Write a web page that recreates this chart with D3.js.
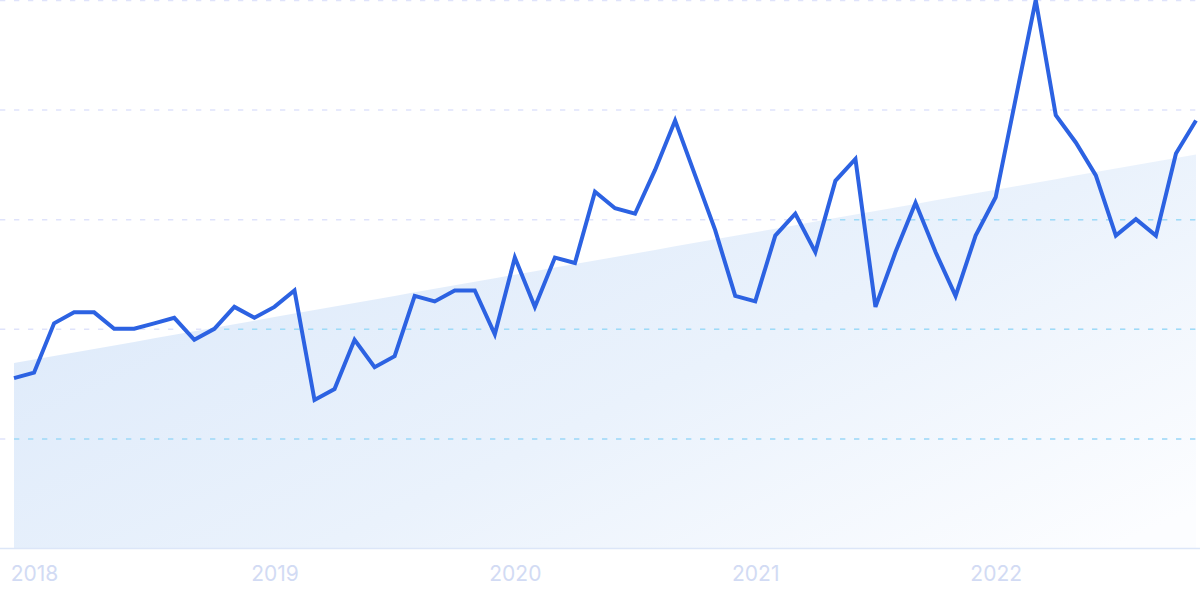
<!DOCTYPE html>
<html>
<head>
<meta charset="utf-8">
<script src="https://cdn.jsdelivr.net/npm/d3@7"></script>
<style>
  html, body { margin: 0; padding: 0; background: #ffffff; }
  svg { display: block; }
  .xaxis text { font-family: Inter, "Noto Sans", sans-serif; }
</style>
</head>
<body>
<svg id="chart" width="1200" height="600"></svg>
<script>
// ---- data ----
const months = d3.timeMonth.range(new Date(2017, 11, 1), new Date(2022, 11, 1)).map(d3.timeFormat("%Y-%m"));
const values = [31, 32, 41, 43, 43, 40, 40, 41, 42, 38, 40, 44,
                42, 44, 47, 27, 29, 38, 33, 35, 46, 45, 47, 47,
                39, 53, 44, 53, 52, 65, 62, 61, 69, 78, 68, 58,
                46, 45, 57, 61, 54, 67, 71, 44, 54, 63, 54, 46,
                57, 64, 82, 100, 79, 74, 68, 57, 60, 57, 72, 78];
const yearTicks = ["2018-01", "2019-01", "2020-01", "2021-01", "2022-01"];
const yearLabels = ["2018", "2019", "2020", "2021", "2022"];
const gridValues = [0, 20, 40, 60, 80, 100];

// ---- layout ----
const W = 1200, H = 600;
const padLeft = 14, padRight = 1196, padTop = 0, padBottom = 548;
const svg = d3.select("#chart");

const x = d3.scalePoint().domain(months).range([padLeft, padRight]);
const y = d3.scaleLinear().domain([0, 100]).range([padBottom, padTop]);

// linear regression trend
const n = values.length;
const idx = d3.range(n);
const mx = d3.mean(idx), my = d3.mean(values);
const slope = d3.sum(idx, i => (i - mx) * (values[i] - my)) / d3.sum(idx, i => (i - mx) * (i - mx));
const intercept = my - slope * mx;
const trend = idx.map(i => ({ m: months[i], v: intercept + slope * i }));

const defs = svg.append("defs");
const grad = defs.append("linearGradient").attr("id", "areaGrad")
  .attr("x1", "0").attr("y1", "0.2").attr("x2", "1").attr("y2", "0.9");
grad.append("stop").attr("offset", "0%").attr("stop-color", "#dce9fa");
grad.append("stop").attr("offset", "55%").attr("stop-color", "#eaf2fc");
grad.append("stop").attr("offset", "100%").attr("stop-color", "#fcfdff");

const area = d3.area()
  .x(d => x(d.m))
  .y0(y(0))
  .y1(d => y(d.v));

defs.append("clipPath").attr("id", "areaClip")
  .append("path").attr("d", area(trend));

svg.append("path")
  .attr("d", area(trend))
  .attr("fill", "url(#areaGrad)");

// grid lines (lavender outside area, cyan inside)
const gridG = svg.append("g");
gridG.selectAll("line").data(gridValues.filter(v => v > 0)).join("line")
  .attr("x1", 0).attr("x2", W)
  .attr("y1", d => y(d) + 0.5).attr("y2", d => y(d) + 0.5)
  .attr("stroke", "#dfe3fb").attr("stroke-width", 1.5)
  .attr("stroke-dasharray", "5.3 8.7");
const gridIn = svg.append("g").attr("clip-path", "url(#areaClip)");
gridIn.selectAll("line").data(gridValues.filter(v => v > 0)).join("line")
  .attr("x1", 0).attr("x2", W)
  .attr("y1", d => y(d) + 0.5).attr("y2", d => y(d) + 0.5)
  .attr("stroke", "#9edcf8").attr("stroke-width", 1.5)
  .attr("stroke-dasharray", "5.3 8.7");

// baseline
svg.append("line")
  .attr("x1", 0).attr("x2", W)
  .attr("y1", y(0) + 0.5).attr("y2", y(0) + 0.5)
  .attr("stroke", "#dce6f8").attr("stroke-width", 1.5);

// x axis
const xAxis = d3.axisBottom(x)
  .tickValues(yearTicks)
  .tickFormat((d, i) => yearLabels[i])
  .tickSize(0)
  .tickPadding(18);
const axG = svg.append("g").attr("class", "xaxis")
  .attr("transform", `translate(0,${padBottom})`)
  .call(xAxis);
axG.select(".domain").remove();
axG.selectAll("text")
  .attr("fill", "#d2dbf4")
  .attr("font-size", 21)
  .attr("dy", "0.71em");

// main line
const line = d3.line()
  .x((d, i) => x(months[i]))
  .y(d => y(d));
svg.append("path")
  .datum(values)
  .attr("d", line)
  .attr("fill", "none")
  .attr("stroke", "#2c62e2")
  .attr("stroke-width", 4)
  .attr("stroke-linejoin", "miter")
  .attr("stroke-linecap", "butt");
</script>
</body>
</html>
